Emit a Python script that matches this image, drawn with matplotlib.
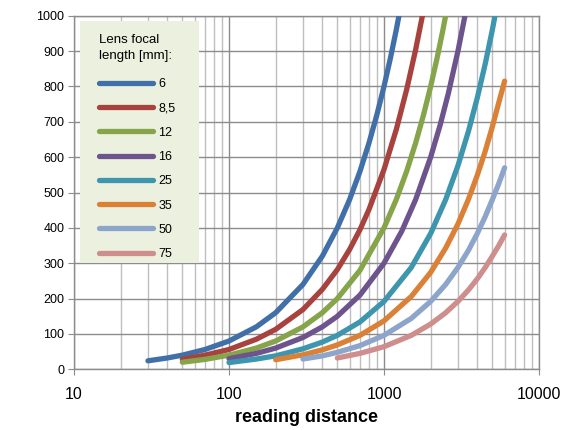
import numpy as np
import matplotlib
matplotlib.use("Agg")
import matplotlib.pyplot as plt
from matplotlib.patches import Rectangle
from matplotlib.ticker import LogLocator, NullFormatter, FixedLocator

plt.rcParams['font.family'] = ['Liberation Sans', 'DejaVu Sans']

focal_labels = ["6", "8,5", "12", "16", "25", "35", "50", "75"]

dist_6 = [30, 40, 50, 70, 100, 150, 200, 300, 400, 500, 600, 700, 800, 900, 1000, 1100, 1200, 1300]
fov_6 = [24, 32, 40, 56, 80, 120, 160, 240, 320, 400, 480, 560, 640, 720, 800, 880, 960, 1040]

dist_8_5 = [50, 70, 100, 150, 200, 300, 400, 500, 600, 700, 800, 1000, 1200, 1400, 1600, 1800]
fov_8_5 = [28, 40, 56, 85, 113, 169, 226, 282, 339, 395, 452, 565, 678, 791, 904, 1016]

dist_12 = [50, 70, 100, 150, 200, 300, 400, 500, 700, 1000, 1200, 1400, 1600, 1800, 2000, 2200, 2400, 2600]
fov_12 = [20, 28, 40, 60, 80, 120, 160, 200, 280, 400, 480, 560, 640, 720, 800, 880, 960, 1040]

dist_16 = [100, 150, 200, 300, 400, 500, 700, 1000, 1300, 1600, 2000, 2300, 2600, 3000, 3400]
fov_16 = [30, 45, 60, 90, 120, 150, 210, 300, 390, 480, 600, 690, 780, 900, 1020]

dist_25 = [100, 150, 200, 300, 400, 500, 700, 1000, 1500, 2000, 2500, 3000, 3500, 4000, 4500, 5000, 5500]
fov_25 = [19, 29, 38, 58, 77, 96, 134, 192, 288, 384, 480, 576, 672, 768, 864, 960, 1056]

dist_35 = [200, 300, 400, 500, 700, 1000, 1500, 2000, 2500, 3000, 3500, 4000, 4500, 5000, 5500, 6000]
fov_35 = [27, 41, 55, 69, 96, 137, 206, 274, 343, 411, 480, 549, 617, 686, 754, 815]

dist_50 = [300, 400, 500, 700, 1000, 1500, 2000, 2500, 3000, 3500, 4000, 4500, 5000, 5500, 6000]
fov_50 = [29, 38, 48, 67, 96, 144, 192, 240, 288, 336, 384, 432, 480, 525, 570]

dist_75 = [500, 700, 1000, 1500, 2000, 2500, 3000, 3500, 4000, 4500, 5000, 5500, 6000]
fov_75 = [32, 45, 64, 96, 128, 160, 192, 224, 256, 288, 320, 350, 380]

series = [(dist_6, fov_6), (dist_8_5, fov_8_5), (dist_12, fov_12), (dist_16, fov_16),
          (dist_25, fov_25), (dist_35, fov_35), (dist_50, fov_50), (dist_75, fov_75)]
colors = ["#4170A8", "#A8423F", "#86A44A", "#6E548D", "#3D96AE",
          "#DA8137", "#8EA5CB", "#CE8E8D"]

W, H = 580, 430
fig = plt.figure(figsize=(5.8, 4.3), dpi=100)
ax = fig.add_axes([74/W, 1-369.3/H, (539-74)/W, (369.3-15.7)/H])

for (xs, ys), c, lab in zip(series, colors, focal_labels):
    ax.plot(xs, ys, color=c, lw=3.8, solid_capstyle='round',
            solid_joinstyle='round', label=lab, zorder=3)

ax.set_xscale('log')
ax.set_xlim(10, 10000)
ax.set_ylim(0, 1000)
ax.xaxis.set_major_locator(FixedLocator([10, 100, 1000, 10000]))
ax.set_xticklabels(["10", "100", "1000", "10000"])
ax.xaxis.set_minor_locator(LogLocator(base=10, subs=np.arange(2, 10)))
ax.xaxis.set_minor_formatter(NullFormatter())
ax.set_yticks(np.arange(0, 1001, 100))

ax.grid(which='major', axis='x', color='#8C8C8C', lw=1.0, zorder=1)
ax.grid(which='minor', axis='x', color='#BEBEBE', lw=1.0, zorder=1)
ax.grid(which='major', axis='y', color='#8C8C8C', lw=1.0, zorder=1)
ax.set_axisbelow(True)

for s in ['top', 'right', 'left', 'bottom']:
    ax.spines[s].set_color('#8C8C8C')
    ax.spines[s].set_linewidth(1.0)

ax.tick_params(axis='y', which='major', length=4, color='#8C8C8C', labelsize=9, pad=3)
ax.tick_params(axis='x', which='major', length=4, color='#8C8C8C', labelsize=11.5, pad=9)
ax.tick_params(axis='x', which='minor', length=0)

ax.set_xlabel("reading distance", fontsize=13, fontweight='bold', labelpad=5)

# legend background panel
panel = Rectangle((80/W, 1-263/H), 119/W, 242/H, transform=fig.transFigure,
                  facecolor='#EBF1DE', edgecolor='none', zorder=4, clip_on=False)
ax.add_patch(panel)

leg = ax.legend(loc='upper left', bbox_to_anchor=(99/W, 1-34/H),
                bbox_transform=fig.transFigure,
                title="Lens focal\nlength [mm]:", alignment='left',
                fontsize=9, title_fontsize=9.5, frameon=False,
                handlelength=4.3, handletextpad=0.45, labelspacing=0.98,
                borderpad=0, borderaxespad=0)
leg.get_title().set_linespacing(1.4)
leg._legend_box.sep = 12
leg.set_zorder(5)

fig.savefig("out.png", dpi=100)
